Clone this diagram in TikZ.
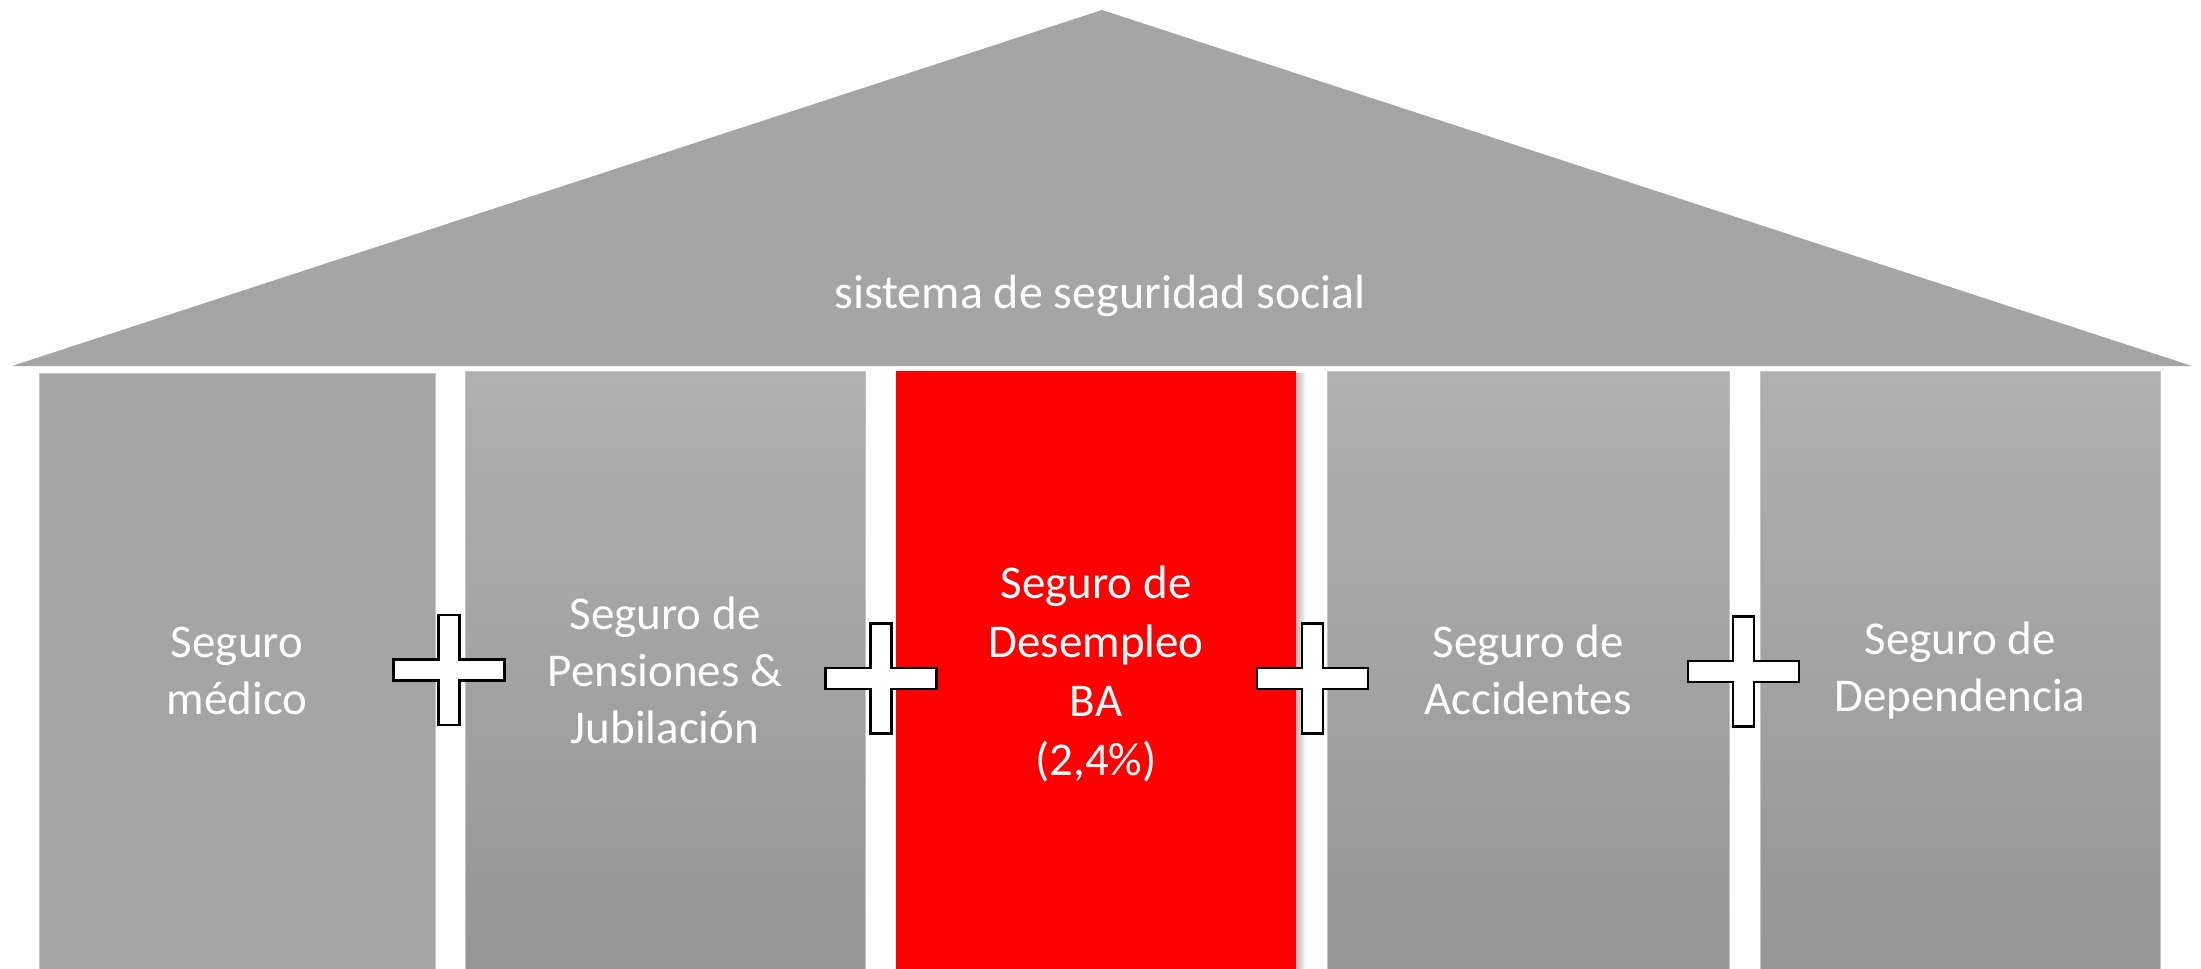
\documentclass[tikz,border=0pt]{standalone}
\usepackage{fontspec}
\setmainfont{Carlito}
\definecolor{roofgray}{HTML}{A5A5A5}
\definecolor{colflat}{HTML}{A5A5A5}
\definecolor{coltop}{HTML}{B0B0B0}
\definecolor{colbot}{HTML}{959595}
\definecolor{colborder}{HTML}{C4C4C4}
\definecolor{hired}{HTML}{FF0000}
\begin{document}
\begin{tikzpicture}[x=1pt,y=-1pt,
  coltext/.style={font=\fontsize{47}{57}\selectfont, text=white, align=center},
  colbox/.style={inner sep=0pt, minimum height=598pt, coltext},
  graycol/.style={colbox, top color=coltop, bottom color=colbot, draw=colborder, line width=1pt},
  flatcol/.style={colbox, fill=colflat, draw=colborder, line width=1pt},
  redcol/.style={colbox, fill=hired},
  plussign/.pic={\filldraw[fill=white,draw=black,line width=2.5pt,line join=miter]
    (-10.5,-55) -- (10.5,-55) -- (10.5,-10.5) -- (55.5,-10.5) -- (55.5,10.5)
    -- (10.5,10.5) -- (10.5,55) -- (-10.5,55) -- (-10.5,10.5) -- (-55.5,10.5)
    -- (-55.5,-10.5) -- (-10.5,-10.5) -- cycle;}
]
\useasboundingbox (0,0) rectangle (2201,969);
\fill[white] (0,0) rectangle (2201,969);

% roof
\fill[roofgray] (12,366) -- (1102,10) -- (2192,366) -- cycle;
\node[font=\fontsize{48}{58}\selectfont, text=white, anchor=base] (roof) at (1100,308) {sistema de seguridad social};

% shadow of the red column
\shade[left color=black!28, right color=white] (1296,373) rectangle (1306,969);

% columns
\node[flatcol, minimum width=396pt, minimum height=596pt] (c1) at (237,671) {Seguro\\médico};
\node[graycol, minimum width=400pt] (c2) at (665,670) {Seguro de\\Pensiones \&\\Jubilación};
\fill[hired] (896,371) rectangle (1296,969);
\node[coltext, font=\fontsize{47}{59}\selectfont, inner sep=0pt] (c3) at (1096,674) {Seguro de\\Desempleo\\BA\\(2,4\%)};
\node[graycol, minimum width=402pt] (c4) at (1528,670) {Seguro de\\Accidentes};
\node[graycol, minimum width=400pt] (c5) at (1960,670) {Seguro de\\Dependencia};

% plus signs
\pic (p1) at (449,670) {plussign};
\pic (p2) at (881,678.5) {plussign};
\pic (p3) at (1312.5,678.5) {plussign};
\pic (p4) at (1743.5,671.5) {plussign};
\end{tikzpicture}
\end{document}
